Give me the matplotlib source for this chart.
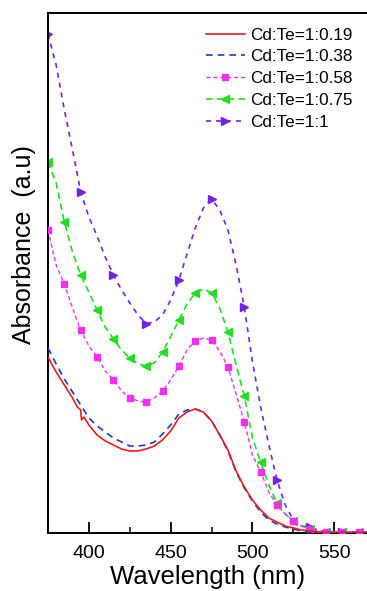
import matplotlib
matplotlib.use("Agg")
import matplotlib.pyplot as plt
from matplotlib.ticker import MultipleLocator

plt.rcParams['font.family'] = ['Liberation Sans', 'DejaVu Sans']

wl = [375, 380, 385, 390, 395, 400, 405, 410, 415, 420, 425, 430, 435, 440, 445,
      450, 455, 460, 465, 470, 475, 480, 485, 490, 495, 500, 505, 510, 515, 520,
      525, 530, 535, 540, 545, 550, 555, 560, 565, 570, 575]

# Cd:Te=1:0.19 (includes small glitch near 395 nm)
wl_019 = [375, 380, 385, 390, 393, 395, 395.5, 397, 400, 405, 410, 415, 420, 425,
          430, 435, 440, 445, 450, 455, 460, 465, 470, 475, 480, 485, 490, 495,
          500, 505, 510, 515, 520, 525, 530, 535, 540, 545, 550, 560, 575]
abs_019 = [1.76, 1.61, 1.48, 1.35, 1.26, 1.23, 1.13, 1.16, 1.08, 0.98, 0.92, 0.88,
           0.84, 0.82, 0.82, 0.84, 0.87, 0.93, 1.02, 1.15, 1.21, 1.24, 1.21, 1.12,
           0.98, 0.83, 0.62, 0.46, 0.33, 0.23, 0.15, 0.11, 0.07, 0.05, 0.03, 0.02,
           0.01, 0.005, 0.005, 0.005, 0.005]

abs_038 = [1.85, 1.69, 1.54, 1.41, 1.28, 1.15, 1.07, 1.01, 0.95, 0.91, 0.87, 0.87,
           0.88, 0.91, 0.99, 1.08, 1.19, 1.23, 1.24, 1.21, 1.12, 0.98, 0.82, 0.61,
           0.45, 0.32, 0.21, 0.13, 0.09, 0.06, 0.04, 0.02, 0.01, 0.005, 0.005,
           0.005, 0.005, 0.005, 0.005, 0.005, 0.005]

abs_058 = [3.03, 2.68, 2.49, 2.25, 2.03, 1.87, 1.76, 1.62, 1.53, 1.42, 1.35, 1.32,
           1.31, 1.35, 1.42, 1.53, 1.67, 1.83, 1.92, 1.95, 1.93, 1.82, 1.66, 1.39,
           1.11, 0.78, 0.61, 0.41, 0.28, 0.19, 0.12, 0.07, 0.04, 0.02, 0.01, 0.01,
           0.01, 0.01, 0.01, 0.01, 0.01]

abs_075 = [3.71, 3.50, 3.11, 2.81, 2.58, 2.41, 2.23, 2.06, 1.94, 1.83, 1.75, 1.69,
           1.67, 1.70, 1.81, 1.96, 2.13, 2.29, 2.40, 2.44, 2.40, 2.25, 2.01, 1.68,
           1.37, 0.95, 0.71, 0.48, 0.30, 0.19, 0.12, 0.07, 0.04, 0.02, 0.01, 0.01,
           0.01, 0.01, 0.01, 0.01, 0.01]

abs_1 = [4.99, 4.68, 4.23, 3.83, 3.41, 3.16, 2.97, 2.76, 2.58, 2.43, 2.30, 2.18,
         2.095, 2.11, 2.18, 2.33, 2.53, 2.79, 3.05, 3.25, 3.34, 3.23, 3.03, 2.68,
         2.26, 1.71, 1.26, 0.88, 0.53, 0.28, 0.13, 0.07, 0.06, 0.03, 0.02, 0.01,
         0.01, 0.01, 0.01, 0.01, 0.01]

labels = ['Cd:Te=1:0.19', 'Cd:Te=1:0.38', 'Cd:Te=1:0.58', 'Cd:Te=1:0.75', 'Cd:Te=1:1']

fig = plt.figure(figsize=(3.67, 5.91), dpi=100)
ax = fig.add_axes([48/367, 58/591, (367-48)/367, (533-13)/591])

ax.plot(wl_019, abs_019, color='#e3201e', lw=1.2, label=labels[0], zorder=5)
ax.plot(wl, abs_038, color='#2233cc', lw=1.2, ls=(0, (4, 3)), label=labels[1], zorder=4)
ax.plot(wl, abs_058, color='#f030f0', lw=1.0, ls=(0, (3, 2)), marker='s', ms=4.5,
        markevery=2, label=labels[2], zorder=3)
ax.plot(wl, abs_075, color='#22dd22', lw=1.2, ls=(0, (4, 2.5)), marker='<', ms=5.5,
        markevery=2, label=labels[3], zorder=2)
ax.plot(wl, abs_1, color='#7322e0', lw=1.2, ls=(0, (3, 3)), marker='>', ms=5.5,
        markevery=4, label=labels[4], zorder=1)

ax.set_xlim(375, 570)
ax.set_ylim(0, 5.2)
ax.xaxis.set_major_locator(MultipleLocator(50))
ax.xaxis.set_minor_locator(MultipleLocator(25))
ax.tick_params(axis='x', which='major', direction='in', length=8, width=1.3,
               labelsize=14, pad=9)
ax.tick_params(axis='x', which='minor', direction='in', length=4, width=1.1)
ax.set_yticks([])
for s in ['left', 'bottom', 'top']:
    ax.spines[s].set_linewidth(1.4)
ax.spines['right'].set_visible(False)

ax.set_xlabel('Wavelength (nm)', fontsize=18.5, labelpad=1.5)
ax.set_ylabel('Absorbance  (a.u)', fontsize=18)
ax.yaxis.set_label_coords(-0.038, 0.554)

leg = ax.legend(loc='upper right', bbox_to_anchor=(1.0, 1.0), frameon=False,
                fontsize=12.3, handlelength=2.3, handletextpad=0.3,
                labelspacing=0.4, borderaxespad=0.45)

fig.savefig('out.png', dpi=100)
